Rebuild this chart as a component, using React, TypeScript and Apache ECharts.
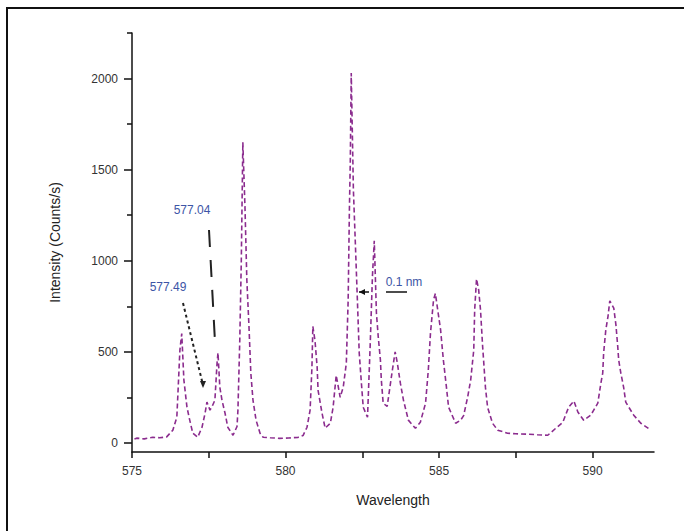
import React, { useEffect, useRef } from "react";
import * as echarts from "echarts";

const wavelength = [
  575.08, 575.15, 575.4, 575.68, 575.9, 576.13, 576.33, 576.46, 576.49, 576.56, 576.62, 576.66, 576.69,
  576.79, 576.88, 576.98, 577.14, 577.28, 577.38, 577.44, 577.54, 577.61, 577.7, 577.77, 577.8, 577.86,
  577.93, 578.03, 578.12, 578.29, 578.42, 578.45, 578.51, 578.56, 578.61, 578.68, 578.74, 578.81, 578.87,
  578.94, 579.04, 579.17, 579.27, 579.5, 579.8, 580.1, 580.4, 580.57, 580.7, 580.8, 580.86, 580.89,
  580.96, 581.03, 581.06, 581.19, 581.29, 581.46, 581.55, 581.65, 581.78, 581.88, 581.98, 582.04, 582.08,
  582.11, 582.14, 582.21, 582.27, 582.34, 582.4, 582.47, 582.53, 582.67, 582.76, 582.83, 582.89, 582.96,
  583.02, 583.09, 583.12, 583.18, 583.31, 583.48, 583.57, 583.64, 583.74, 583.84, 584.0, 584.23, 584.39,
  584.56, 584.65, 584.72, 584.82, 584.88, 585.05, 585.14, 585.24, 585.31, 585.54, 585.7, 585.8, 585.93,
  586.03, 586.13, 586.16, 586.22, 586.29, 586.35, 586.42, 586.45, 586.51, 586.58, 586.74, 586.91, 587.23,
  587.5, 587.89, 588.2, 588.54, 588.8, 589.03, 589.22, 589.39, 589.52, 589.71, 589.94, 590.17, 590.27,
  590.33, 590.36, 590.43, 590.5, 590.56, 590.69, 590.76, 590.82, 590.85, 590.92, 591.01, 591.08, 591.18,
  591.34, 591.57, 591.9,
];
const intensity = [
  22, 26, 22, 31, 28, 33, 70, 141, 250, 509, 600, 455, 345,
  196, 125, 53, 31, 86, 163, 224, 180, 200, 235, 438, 494, 306,
  235, 163, 86, 42, 90, 180, 564, 1004, 1650, 1290, 894, 637, 383,
  235, 125, 53, 31, 28, 25, 27, 30, 40, 86, 180, 415, 640,
  560, 415, 288, 162, 81, 108, 196, 371, 250, 306, 438, 785, 1280,
  1556, 2030, 1390, 1114, 785, 494, 330, 196, 141, 550, 913, 1110, 713,
  581, 455, 345, 218, 200, 400, 500, 440, 328, 235, 125, 80, 113,
  218, 400, 601, 785, 820, 620, 455, 306, 196, 108, 124, 150, 250,
  345, 510, 730, 900, 840, 730, 527, 455, 306, 196, 108, 70, 53,
  50, 48, 45, 42, 80, 113, 196, 230, 170, 124, 152, 218, 328,
  383, 494, 620, 692, 780, 740, 648, 527, 455, 383, 306, 224, 196,
  152, 108, 70,
];

const xMajorTicks = [575, 580, 585, 590];
const xAllTicks = [575, 577.5, 580, 582.5, 585, 587.5, 590];
const yMajorTicks = [0, 500, 1000, 1500, 2000];
const yMinorTicks = [250, 750, 1250, 1750, 2250];

const FONT = "Liberation Sans, Arial, sans-serif";

export default function App() {
  const ref = useRef<HTMLDivElement>(null);
  useEffect(() => {
    document.body.style.margin = "0";
    const chart = echarts.init(ref.current!, null, { renderer: "svg" });
    const axisColor = "#111";
    chart.setOption({
      animation: false,
      backgroundColor: "#fff",
      grid: { left: 132, right: 30, top: 33, bottom: 79, containLabel: false },
      xAxis: {
        type: "value",
        min: 575,
        max: 592,
        name: "Wavelength",
        nameLocation: "middle",
        nameGap: 41,
        nameTextStyle: { fontFamily: FONT, fontSize: 14, color: "#222" },
        axisLine: { show: true, onZero: false, lineStyle: { color: axisColor, width: 1.5 } },
        axisTick: { show: true, customValues: xAllTicks, length: 6, lineStyle: { color: axisColor, width: 1.5 } },
        axisLabel: {
          customValues: xMajorTicks,
          margin: 13,
          fontFamily: FONT,
          fontSize: 12,
          color: "#333",
          formatter: (v: number) => String(v),
        },
        splitLine: { show: false },
      },
      yAxis: [
        {
          type: "value",
          min: -50,
          max: 2250,
          name: "Intensity (Counts/s)",
          nameLocation: "middle",
          nameGap: 70,
          nameTextStyle: { fontFamily: FONT, fontSize: 14, color: "#222" },
          axisLine: { show: true, onZero: false, lineStyle: { color: axisColor, width: 1.5 } },
          axisTick: { show: true, customValues: yMajorTicks, length: 8, lineStyle: { color: axisColor, width: 1.5 } },
          axisLabel: {
            customValues: yMajorTicks,
            margin: 14,
            fontFamily: FONT,
            fontSize: 12,
            color: "#333",
            formatter: (v: number) => String(v),
          },
          splitLine: { show: false },
        },
        {
          type: "value",
          min: -50,
          max: 2250,
          position: "left",
          axisLine: { show: false, onZero: false },
          axisTick: { show: true, customValues: yMinorTicks, length: 5, lineStyle: { color: axisColor, width: 1.5 } },
          axisLabel: { show: false },
          splitLine: { show: false },
        },
      ],
      series: [
        {
          type: "line",
          data: wavelength.map((w, i) => [w, intensity[i]]),
          showSymbol: false,
          symbol: "none",
          lineStyle: { color: "#8b2c8e", width: 1.6, type: [5, 3] },
          yAxisIndex: 0,
        },
      ],
      graphic: [
        {
          type: "rect",
          shape: { x: 7, y: 8, width: 740, height: 600 },
          style: { fill: "none", stroke: "#111", lineWidth: 2 },
          silent: true,
        },
        {
          type: "text",
          x: 192,
          y: 210,
          style: { text: "577.04", fill: "#3d55a6", font: `12px ${FONT}`, align: "center", verticalAlign: "middle" },
        },
        {
          type: "line",
          shape: { x1: 209, y1: 230, x2: 215, y2: 342 },
          style: { stroke: "#222", lineWidth: 2, lineDash: [17, 13] },
        },
        {
          type: "text",
          x: 168,
          y: 287,
          style: { text: "577.49", fill: "#3d55a6", font: `12px ${FONT}`, align: "center", verticalAlign: "middle" },
        },
        {
          type: "line",
          shape: { x1: 183, y1: 303, x2: 203, y2: 385 },
          style: { stroke: "#222", lineWidth: 2, lineDash: [3, 3] },
        },
        {
          type: "polygon",
          shape: { points: [[203, 388], [200, 381], [206, 381]] },
          style: { fill: "#222" },
        },
        {
          type: "text",
          x: 404,
          y: 282,
          style: { text: "0.1 nm", fill: "#3d55a6", font: `12px ${FONT}`, align: "center", verticalAlign: "middle" },
        },
        {
          type: "line",
          shape: { x1: 359, y1: 292, x2: 369, y2: 292 },
          style: { stroke: "#111", lineWidth: 1.5 },
        },
        {
          type: "polygon",
          shape: { points: [[359, 292], [365, 289], [365, 295]] },
          style: { fill: "#111" },
        },
        {
          type: "line",
          shape: { x1: 386, y1: 292, x2: 407, y2: 292 },
          style: { stroke: "#111", lineWidth: 1.5 },
        },
      ],
    });
    return () => chart.dispose();
  }, []);
  return <div ref={ref} style={{ width: 684, height: 531 }} />;
}
